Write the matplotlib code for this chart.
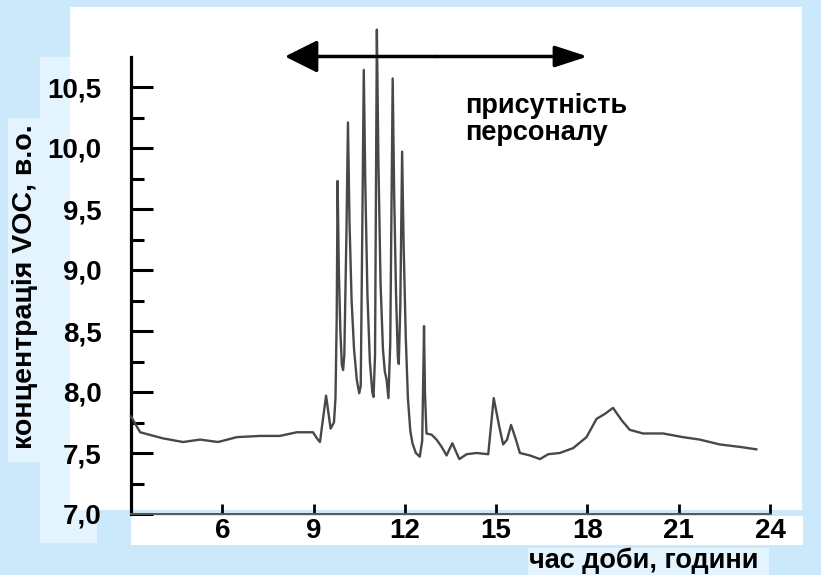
import matplotlib
matplotlib.use("Agg")
import matplotlib.pyplot as plt
from matplotlib.patches import Rectangle

# ---- data ----
hours = [3.0, 3.3, 4.05, 4.71, 5.27, 5.86, 6.48, 7.24, 7.89, 8.45, 8.98, 9.14,
         9.21, 9.41, 9.56, 9.67, 9.72,
         9.76, 9.79, 9.83, 9.88, 9.93, 9.97, 10.01,
         10.08, 10.13, 10.18, 10.25, 10.33, 10.42, 10.50, 10.55,
         10.60, 10.65, 10.70, 10.77, 10.85, 10.93, 10.97, 11.02,
         11.08, 11.13, 11.20, 11.28, 11.34, 11.40, 11.46, 11.52,
         11.60, 11.65, 11.71, 11.77, 11.80, 11.85,
         11.91, 11.96, 12.03, 12.10, 12.18, 12.25, 12.36, 12.49,
         12.57, 12.61, 12.63, 12.66, 12.71, 12.88, 13.04, 13.21, 13.37,
         13.56, 13.79, 14.03, 14.36, 14.74, 14.92, 15.1, 15.23, 15.36, 15.49, 15.65,
         15.78, 16.11, 16.44, 16.71, 17.09, 17.53, 17.97, 18.3, 18.57, 18.84, 19.12,
         19.39, 19.83, 20.49, 21.14, 21.69, 22.35, 23.01, 23.55]
voc = [7.80, 7.67, 7.62, 7.59, 7.61, 7.59, 7.63, 7.64, 7.64, 7.67, 7.67, 7.61,
       7.59, 7.97, 7.70, 7.75, 7.95,
       8.60, 9.73, 9.00, 8.50, 8.22, 8.18, 8.30,
       9.30, 10.21, 9.40, 8.75, 8.35, 8.10, 7.99, 8.05,
       9.30, 10.64, 9.70, 8.80, 8.25, 8.00, 7.96, 8.30,
       10.97, 9.90, 8.90, 8.35, 8.17, 8.10, 7.95, 8.40,
       10.57, 9.60, 8.80, 8.28, 8.23, 8.70,
       9.97, 9.20, 8.45, 7.95, 7.68, 7.58, 7.50, 7.47,
       7.60, 8.20, 8.54, 8.00, 7.66, 7.65, 7.61, 7.55, 7.48,
       7.58, 7.45, 7.49, 7.50, 7.49, 7.95, 7.72, 7.57, 7.61, 7.73, 7.61,
       7.50, 7.48, 7.45, 7.49, 7.50, 7.54, 7.63, 7.78, 7.82, 7.87, 7.77,
       7.69, 7.66, 7.66, 7.63, 7.61, 7.57, 7.55, 7.53]

x_ticks = [6, 9, 12, 15, 18, 21, 24]
y_major = [7.0, 7.5, 8.0, 8.5, 9.0, 9.5, 10.0, 10.5]
y_labels = ["7,0", "7,5", "8,0", "8,5", "9,0", "9,5", "10,0", "10,5"]
y_minor = [7.25, 7.75, 8.25, 8.75, 9.25, 9.75, 10.25]
presence = [8.06, 18.01]
presence_label = "присутність\nперсоналу"
x_title = "час доби, години"
y_title = "концентрація VOC, в.о."

# ---- style ----
W, H = 821, 575
BLUE = "#cce9fc"
PALE = "#e4f4fe"
plt.rcParams["font.family"] = ["Liberation Sans", "DejaVu Sans"]
plt.rcParams["font.weight"] = "bold"

fig = plt.figure(figsize=(W / 100, H / 100), dpi=100, facecolor=BLUE)

def prect(x0, y0, x1, y1, color):
    fig.patches.append(Rectangle((x0 / W, 1 - y1 / H), (x1 - x0) / W, (y1 - y0) / H,
                                 transform=fig.transFigure, facecolor=color,
                                 edgecolor="none", zorder=-10))

prect(70, 7, 802, 510, "white")
prect(131, 516, 803, 545, "white")
prect(40, 57, 70, 510, PALE)
prect(40, 510, 97, 543, PALE)
prect(8, 118, 40, 462, PALE)
prect(528, 548, 769, 575, PALE)

ax = fig.add_axes([131 / W, 61 / H, 639 / W, 488 / H])
ax.set_facecolor("none")
ax.plot(hours, voc, color="#484848", lw=1.7, clip_on=False, zorder=3,
        solid_joinstyle="round")

ax.set_xlim(3, 24)
ax.set_ylim(7.0, 11.0)

for s in ("top", "right"):
    ax.spines[s].set_visible(False)
ax.spines["left"].set_linewidth(2.3)
ax.spines["left"].set_color("black")
ax.spines["left"].set_bounds(7.0, 10.75)
ax.spines["bottom"].set_linewidth(1.4)
ax.spines["bottom"].set_color("#555555")

ax.set_xticks(x_ticks)
ax.set_xticklabels([str(v) for v in x_ticks])
ax.set_yticks(y_major)
ax.set_yticklabels(y_labels)
ax.set_yticks(y_minor, minor=True)

ax.tick_params(axis="y", which="major", direction="in", length=16, width=2.2,
               color="black", pad=21, labelsize=20)
ax.tick_params(axis="y", which="minor", direction="in", length=9.5, width=2.2,
               color="black")
ax.tick_params(axis="x", which="major", direction="in", length=7.5, width=2.0,
               color="black", pad=3, labelsize=20)
for lab in ax.get_xticklabels() + ax.get_yticklabels():
    lab.set_fontweight("bold")

# presence arrow
ymid = 10.75
xmid = (presence[0] + presence[1]) / 2
ax.annotate("", xy=(presence[0], ymid), xytext=(xmid, ymid),
            arrowprops=dict(arrowstyle="-|>,head_length=2.0,head_width=1.0",
                            mutation_scale=10, color="black", lw=2.5,
                            shrinkA=0, shrinkB=0), annotation_clip=False)
ax.annotate("", xy=(presence[1], ymid), xytext=(xmid, ymid),
            arrowprops=dict(arrowstyle="-|>,head_length=2.0,head_width=0.65",
                            mutation_scale=10, color="black", lw=2.5,
                            shrinkA=0, shrinkB=0), annotation_clip=False)
ax.text(13.98, 10.066, presence_label, ha="left", va="baseline", fontsize=19.5,
        fontweight="bold", linespacing=1.06)

ax.set_xlabel(x_title, fontsize=19.5, fontweight="bold")
ax.xaxis.set_label_coords(644 / W, (H - 568) / H, transform=fig.transFigure)
ax.xaxis.label.set_va("baseline")
ax.xaxis.label.set_ha("center")
ax.set_ylabel(y_title, fontsize=20.5, fontweight="bold")
ax.yaxis.set_label_coords(25 / W, (H - 287) / H, transform=fig.transFigure)
ax.yaxis.label.set_va("center")

fig.savefig("out.png", dpi=100, facecolor=fig.get_facecolor())
